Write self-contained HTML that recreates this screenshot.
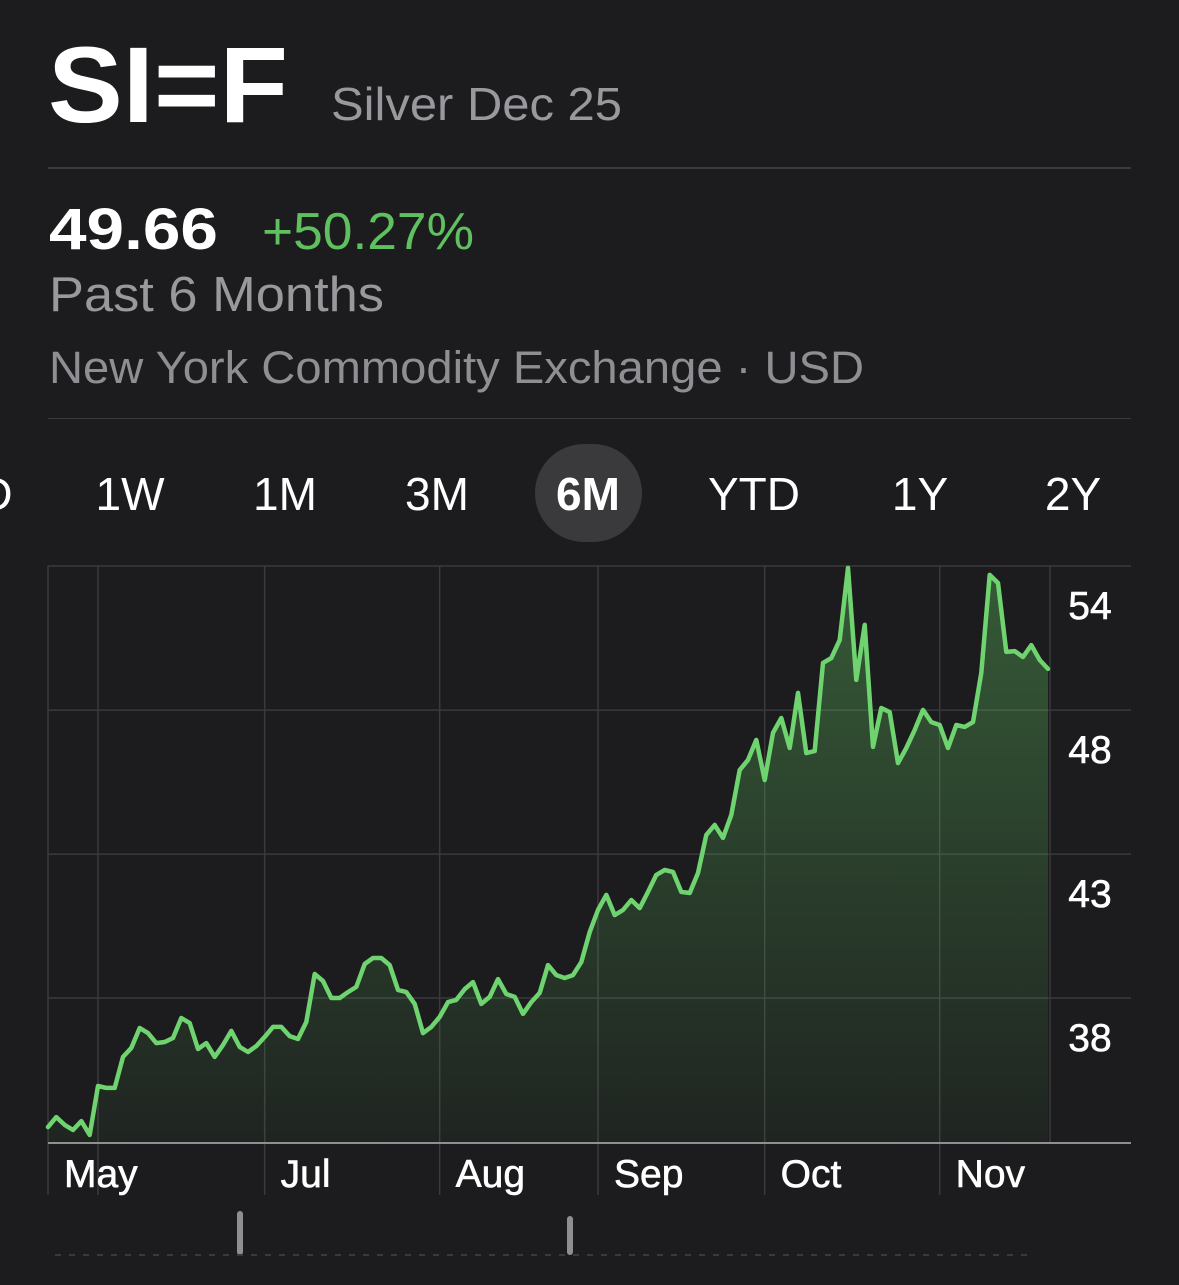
<!DOCTYPE html>
<html><head><meta charset="utf-8">
<style>
html,body{margin:0;padding:0;background:#1c1c1e;}
svg{display:block;font-family:"Liberation Sans",sans-serif;}
</style></head>
<body>
<svg id="page" width="1179" height="1285" viewBox="0 0 1179 1285">
<rect width="1179" height="1285" fill="#1c1c1e"/>
<text x="48" y="122" font-size="108" font-weight="bold" fill="#fff" textLength="240" lengthAdjust="spacingAndGlyphs">SI=F</text>
<text x="331" y="120" font-size="46" fill="#98989d" textLength="291" lengthAdjust="spacingAndGlyphs">Silver Dec 25</text>
<rect x="48" y="167" width="1083" height="2" fill="#3a3a3c"/>
<text x="49" y="249" font-size="58" font-weight="bold" fill="#fff" textLength="169" lengthAdjust="spacingAndGlyphs">49.66</text>
<text x="262" y="249" font-size="52" fill="#5fc05f" textLength="212" lengthAdjust="spacingAndGlyphs">+50.27%</text>
<text x="49" y="311" font-size="49" fill="#98989d" textLength="335" lengthAdjust="spacingAndGlyphs">Past 6 Months</text>
<text x="49" y="383" font-size="45" fill="#8e8e93" textLength="815" lengthAdjust="spacingAndGlyphs">New York Commodity Exchange · USD</text>
<rect x="48" y="418" width="1083" height="1" fill="#3a3a3c"/>
<g font-size="46" fill="#fff" text-anchor="middle">
<text x="-4" y="510">D</text>
<text x="130" y="510">1W</text>
<text x="285" y="510">1M</text>
<text x="437" y="510">3M</text>
<rect x="535" y="444" width="107" height="98" rx="49" fill="#3a3a3c"/>
<text x="588" y="510" font-weight="bold">6M</text>
<text x="754" y="510">YTD</text>
<text x="920" y="510">1Y</text>
<text x="1073" y="510">2Y</text>
</g>
<defs>
<linearGradient id="fillGrad" x1="0" y1="0" x2="0" y2="1">
<stop offset="0" stop-color="#5fc05f" stop-opacity="0.38"/>
<stop offset="1" stop-color="#5fc05f" stop-opacity="0.05"/>
</linearGradient>
</defs>
<g id="chart"></g>
<rect x="237" y="1211" width="6" height="44" rx="3" fill="#8e8e93"/>
<rect x="567" y="1216" width="6" height="39" rx="3" fill="#8e8e93"/>
<line x1="55" y1="1255" x2="1035" y2="1255" stroke="#3a3a3c" stroke-width="2" stroke-dasharray="6 8"/>
</svg>
<script>
const prices = [33.26,33.63,33.34,33.15,33.48,32.97,34.78,34.71,34.71,35.86,36.19,36.93,36.74,36.37,36.41,36.56,37.30,37.11,36.15,36.37,35.86,36.30,36.82,36.23,36.04,36.26,36.60,36.97,36.97,36.63,36.52,37.15,38.93,38.67,38.04,38.04,38.26,38.45,39.30,39.52,39.52,39.26,38.34,38.26,37.82,36.74,36.97,37.34,37.89,37.97,38.37,38.63,37.82,38.08,38.74,38.19,38.08,37.45,37.89,38.23,39.26,38.89,38.78,38.89,39.37,40.48,41.30,41.86,41.11,41.30,41.67,41.37,41.97,42.60,42.78,42.71,41.97,41.93,42.67,44.08,44.45,43.97,44.82,46.48,46.86,47.60,46.11,47.86,48.41,47.30,49.34,47.11,47.19,50.45,50.63,51.30,53.97,49.82,51.86,47.34,48.78,48.63,46.74,47.30,47.97,48.71,48.26,48.15,47.30,48.15,48.08,48.26,50.08,53.71,53.41,50.86,50.89,50.67,51.11,50.56,50.23];
const yTickValues = [54.04, 48.7, 43.37, 38.04];
const yTickLabels = ["54","48","43","38"];
const monthGridIndex = [6, 26, 47, 66, 86, 107];
const monthLabelIndex = [0, 26, 47, 66, 86, 107];
const monthLabels = ["May","Jul","Aug","Sep","Oct","Nov"];

const NS = "http://www.w3.org/2000/svg";
const L = 48, R = 1048, T = 566, B = 1143, YMIN = 32.67, YMAX = 54.04;
const n = prices.length;
const xS = i => L + i * (R - L) / (n - 1);
const yS = v => B - (v - YMIN) / (YMAX - YMIN) * (B - T);
const g = document.getElementById('chart');
function mk(tag, attrs) { const e = document.createElementNS(NS, tag); for (const k in attrs) e.setAttribute(k, attrs[k]); g.appendChild(e); return e; }

yTickValues.forEach((v, i) => {
  const ln = mk('line', {x1: 48, x2: 1131, y1: yS(v), y2: yS(v), stroke: '#3a3a3c', 'stroke-width': 1.5});
  
  
  const t = mk('text', {x: 1090, y: yS(v) + 53, 'font-size': 39, fill: '#fff', 'text-anchor': 'middle', stroke: '#fff', 'stroke-width': 0.6});
  t.textContent = yTickLabels[i];
  
  
});
[48, 1050].forEach(x => {
  const ln = mk('line', {x1: x, x2: x, y1: T, y2: x === 48 ? 1195 : B, stroke: '#3a3a3c', 'stroke-width': 1.5});
  
  
});
monthGridIndex.forEach(i => {
  const ln = mk('line', {x1: xS(i), x2: xS(i), y1: T, y2: 1195, stroke: '#3a3a3c', 'stroke-width': 1.5});
  
  
});
monthLabels.forEach((m, k) => {
  const t = mk('text', {x: xS(monthLabelIndex[k]) + 16, y: 1187, 'font-size': 39, fill: '#fff', stroke: '#fff', 'stroke-width': 0.6});
  t.textContent = m;
  
  
});
let d = prices.map((v, i) => (i ? 'L' : 'M') + xS(i).toFixed(1) + ',' + yS(v).toFixed(1)).join(' ');
const area = mk('path', {d: d + ` L${xS(n-1)},${B} L${xS(0)},${B} Z`, fill: 'url(#fillGrad)'});


const base = mk('line', {x1: 48, x2: 1131, y1: B, y2: B, stroke: '#8e8e93', 'stroke-width': 2});


const line = mk('path', {d: d, fill: 'none', stroke: '#6fd46f', 'stroke-width': 4.5, 'stroke-linejoin': 'round', 'stroke-linecap': 'round'});


</script>
</body></html>
